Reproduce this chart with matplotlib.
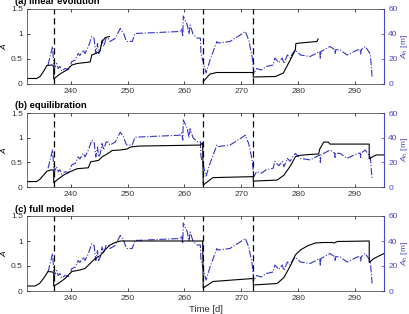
import numpy as np
import matplotlib
matplotlib.use("Agg")
import matplotlib.pyplot as plt

plt.rcParams['font.family'] = ['Liberation Sans', 'DejaVu Sans']
plt.rcParams['mathtext.fontset'] = 'custom'
plt.rcParams['mathtext.it'] = 'Liberation Sans:italic'
plt.rcParams['mathtext.rm'] = 'Liberation Sans'

nan = np.nan

# Observed A_h [m] (blue, same in all panels)
obs_day = [236.0, 236.8, 237.0, 237.2, 237.5, 237.8, 238.1, 238.4, 239.0, 239.6,
           240.2, 240.8, 241.3, 241.6, 242.2, 242.5, 243.1, 243.7, 244.1, 244.4,
           244.7, 244.9, 245.2, 245.5, 245.8, 246.2, 246.6, 246.9, 247.8, 248.7,
           249.3, 249.7, 249.9, 250.8, 251.3, 259.2, 259.5, 259.7, 259.8, 260.5,
           260.8, 261.0, 261.5, 262.2, 262.8, 262.9, 263.5, 263.8, 264.5, 265.7,
           265.9, 268.0, 269.8, 270.7, 271.3, 271.9, 272.2, 272.7, 273.5, 274.4,
           275.6, 275.9, 276.6, 277.2, 277.5, 278.1, 278.6, 279.0, 279.5, 280.4,
           282.1, 283.8, 283.9, 284.0, 285.6, 286.4, 286.5, 286.6, 287.4, 288.6,
           290.4, 290.9, 291.0, 291.1, 291.8, 292.7, 293.0]
obs_Ah = [15.2, 30.0, 16.4, 13.2, 16.4, 12.4, 14.0, 10.4, 12.4, 11.6,
          18.0, 19.2, 24.4, 22.8, 27.2, 24.4, 30.0, 38.0, 36.4, 24.4,
          32.4, 24.4, 27.2, 35.2, 30.0, 36.4, 36.4, 34.0, 36.4, 44.4,
          40.4, 35.2, 34.0, 34.0, 40.4, 42.0, 44.0, 38.0, 54.4, 47.2,
          40.0, 47.2, 40.0, 36.8, 36.8, 24.8, 14.0, 8.8, 19.2, 34.0,
          32.8, 34.0, 39.2, 42.0, 35.2, 22.0, 8.4, 12.4, 11.2, 14.0,
          15.2, 20.8, 17.2, 20.8, 16.4, 23.2, 20.8, 24.4, 27.2, 23.2,
          22.0, 26.0, 20.0, 26.0, 30.0, 27.5, 24.0, 27.5, 27.2, 23.2,
          27.2, 27.5, 24.0, 27.5, 30.0, 24.0, 6.0]

# (a) linear evolution
day_a = [232.3, 234.0, 234.6, 235.2, 235.8, 236.7, 237.0, 237.0, 238.1, 239.3,
         240.2, 241.1, 243.4, 243.7, 244.6, 245.1, 245.5, 246.1, 246.8, nan,
         263.3, 264.5, 265.7, 272.1, 272.1, 276.0, 277.4, 278.6, 279.5, 279.6,
         280.4, 283.3, 283.5]
A_a = [0.11, 0.11, 0.15, 0.25, 0.37, 0.38, 0.35, 0.10, 0.20, 0.28,
       0.38, 0.41, 0.44, 0.58, 0.62, 0.65, 0.85, 0.93, 0.95, nan,
       0.05, 0.20, 0.23, 0.23, 0.14, 0.15, 0.22, 0.48, 0.68, 0.81,
       0.82, 0.85, 0.90]

# (b) equilibration
day_b = [232.3, 234.0, 234.6, 235.8, 236.6, 237.0, 237.0, 238.7, 239.9, 241.1,
         243.1, 243.5, 244.9, 245.5, 246.4, 247.3, 248.7, 249.9, 250.5, 252.0,
         262.8, 263.2, 263.3, 265.0, 272.1, 272.1, 276.3, 277.5, 278.7, 279.5,
         280.1, 282.2, 283.6, 283.8, 284.5, 285.3, 285.6, 292.5, 292.5, 293.2,
         293.8, 295.1]
A_b = [0.11, 0.11, 0.16, 0.32, 0.35, 0.34, 0.09, 0.24, 0.31, 0.37,
       0.39, 0.51, 0.54, 0.61, 0.67, 0.74, 0.75, 0.77, 0.81, 0.83,
       0.85, 0.90, 0.04, 0.19, 0.21, 0.12, 0.14, 0.24, 0.44, 0.61,
       0.64, 0.66, 0.67, 0.77, 0.91, 0.91, 0.87, 0.87, 0.57, 0.62,
       0.65, 0.65]

# (c) full model
day_c = [232.3, 233.7, 234.5, 235.2, 236.0, 236.8, 237.0, 237.0, 237.8, 239.0,
         240.2, 241.6, 242.5, 243.4, 244.3, 245.2, 246.0, 246.9, 247.8, 248.7,
         263.2, 263.3, 265.0, 268.5, 272.1, 272.1, 276.3, 277.5, 278.7, 279.5,
         280.4, 281.6, 283.0, 284.5, 286.0, 286.3, 286.9, 292.5, 292.5, 293.2,
         294.2, 295.1]
A_c = [0.10, 0.10, 0.15, 0.25, 0.39, 0.38, 0.36, 0.10, 0.15, 0.25,
       0.39, 0.42, 0.45, 0.55, 0.65, 0.71, 0.82, 0.92, 0.97, 1.00,
       1.00, 0.06, 0.19, 0.22, 0.25, 0.12, 0.15, 0.27, 0.52, 0.72,
       0.82, 0.90, 0.96, 0.97, 0.97, 0.96, 0.99, 1.00, 0.57, 0.64,
       0.70, 0.75]

events = [237.0, 263.3, 272.1]
titles = ['(a) linear evolution', '(b) equilibration', '(c) full model']
xticks = [240, 250, 260, 270, 280, 290]
yticks_l = [0, 0.5, 1, 1.5]
ylabels_l = ['0', '0.5', '1', '1.5']
yticks_r = [0, 20, 40, 60]

blue = '#3434c8'
axblue = '#4848c0'

fig = plt.figure(figsize=(4.10, 3.14), dpi=100)
W, H = 410, 314
left, right = 27 / W, 384 / W
tops = [9, 113, 216]
bottoms = [84, 187, 291]
series = [(day_a, A_a), (day_b, A_b), (day_c, A_c)]
fs = 6.0
fs_t = 6.8

for i in range(3):
    y0 = 1 - bottoms[i] / H
    hpx = bottoms[i] - tops[i]
    h = hpx / H
    ax = fig.add_axes([left, y0, right - left, h])
    ax2 = ax.twinx()
    ax.set_zorder(ax2.get_zorder() + 1)
    ax.patch.set_visible(False)
    d, a = series[i]
    ax.plot(d, a, color='black', lw=0.8)
    for e in events:
        ax.axvline(e, color='black', ls=(0, (5, 3)), lw=0.9)
    ax2.plot(obs_day, obs_Ah, color=blue, lw=0.8, ls='-.')
    ax.set_xlim(232.3, 295.1)
    ax.set_ylim(0, 1.5)
    ax2.set_ylim(0, 60)
    ax.set_xticks(xticks)
    ax.set_yticks(yticks_l)
    ax.set_yticklabels(ylabels_l)
    ax2.set_yticks(yticks_r)
    ax.tick_params(axis='both', direction='in', labelsize=fs, length=2.5,
                   width=0.5, top=True, colors='black', labelcolor='#333333',
                   pad=3)
    ax.tick_params(axis='y', right=False)
    ax2.tick_params(axis='y', direction='in', labelsize=fs, length=2.5,
                    width=0.5, colors=axblue, labelcolor=axblue, pad=3)
    for s in ['left', 'top', 'bottom']:
        ax.spines[s].set_linewidth(0.5)
        ax.spines[s].set_color('#333333')
    ax.spines['right'].set_visible(False)
    for s in ['left', 'top', 'bottom']:
        ax2.spines[s].set_visible(False)
    ax2.spines['right'].set_color(axblue)
    ax2.spines['right'].set_linewidth(0.8)
    ax.set_ylabel('$A$', fontsize=fs, labelpad=2)
    ax2.set_ylabel('$A_h$ [m]', fontsize=fs, color=axblue, labelpad=1)
    ax.text(-12 / 357, 1 + 7 / hpx, titles[i], transform=ax.transAxes,
            fontsize=fs_t, fontweight='bold', ha='left', va='center')
    if i == 2:
        ax.set_xlabel('Time [d]', fontsize=fs_t, labelpad=2, color='#333333')

fig.savefig('out.png', dpi=100)
